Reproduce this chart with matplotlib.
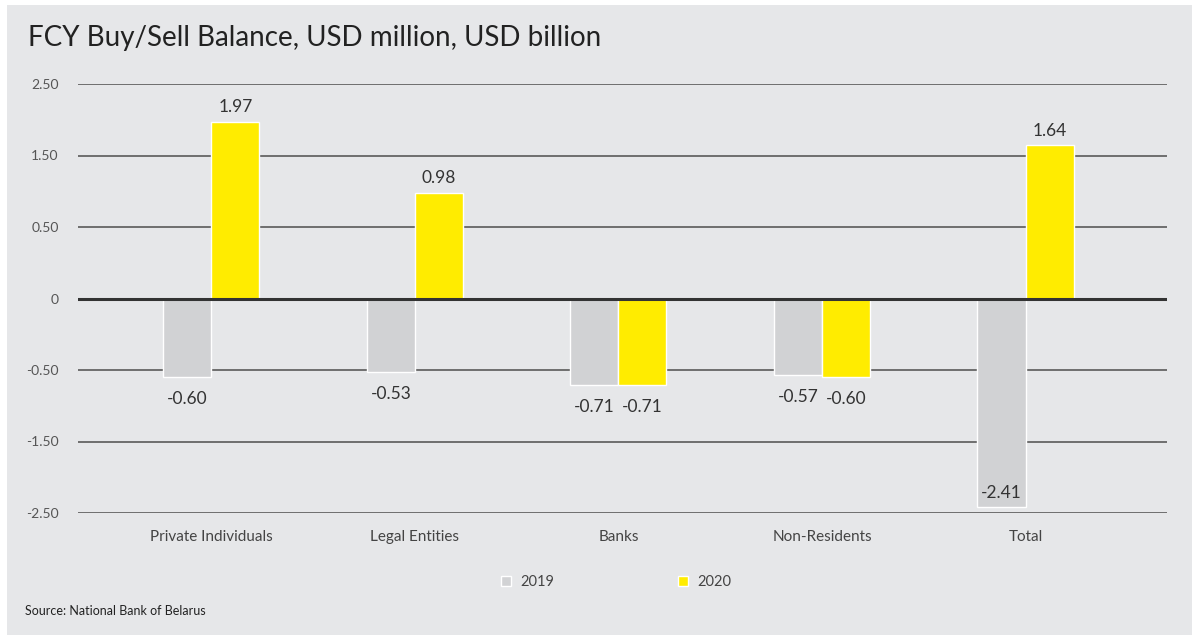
import numpy as np
import matplotlib
matplotlib.use("Agg")
import matplotlib.pyplot as plt
from matplotlib.patches import Rectangle

categories = ["Private Individuals", "Legal Entities", "Banks", "Non-Residents", "Total"]
vals_2019 = [-0.60, -0.53, -0.71, -0.57, -2.41]
vals_2020 = [1.97, 0.98, -0.71, -0.60, 1.64]
tick_vals = [-2.5, -1.5, -0.5, 0, 0.5, 1.5, 2.5]
tick_labels = ["-2.50", "-1.50", "-0.50", "0", "0.50", "1.50", "2.50"]

plt.rcParams["font.family"] = ["Lato", "DejaVu Sans"]

# the axis is stretched piecewise: every gridline gets the same spacing
grid_pos = np.arange(len(tick_vals)) - 3.0


def fwd(v):
    return np.interp(v, tick_vals, grid_pos)


def inv(u):
    return np.interp(u, grid_pos, tick_vals)


W, H = 1192, 635
fig = plt.figure(figsize=(W / 100, H / 100), dpi=100, facecolor="white")
fig.patches.append(Rectangle((7 / W, 0), 1, 1 - 5 / H, transform=fig.transFigure,
                             facecolor="#e6e7e9", edgecolor="none", zorder=0))

ax = fig.add_axes([78 / W, 1 - 513 / H, (1167 - 78) / W, (513 - 84) / H])
ax.set_zorder(2)
ax.set_facecolor("none")
ax.set_yscale("function", functions=(fwd, inv))
ax.set_ylim(-2.5, 2.5)

x = np.arange(len(categories))
bw = 0.236
c19, c20 = "#d1d2d4", "#ffec00"
b1 = ax.bar(x - bw / 2, vals_2019, bw, color=c19, edgecolor="white", lw=1, zorder=2, label="2019")
b2 = ax.bar(x + bw / 2, vals_2020, bw, color=c20, edgecolor="white", lw=1, zorder=2, label="2020")

ax.set_xlim(-0.655, len(categories) - 1 + 0.695)
ax.set_xticks(x)
ax.set_xticklabels(categories, fontsize=11, color="#444444")
ax.set_yticks(tick_vals)
ax.set_yticklabels(tick_labels, fontsize=10, color="#555555")
ax.tick_params(length=0)
ax.tick_params(axis="x", pad=12)
ax.tick_params(axis="y", pad=14)

ax.grid(axis="y", color="#5a5a5a", lw=1.2, zorder=1)
ax.axhline(0, color="#333333", lw=2.2, zorder=3)
for s in ax.spines.values():
    s.set_visible(False)

# value labels
for bars, vals in ((b1, vals_2019), (b2, vals_2020)):
    for rect, v in zip(bars, vals):
        cx = rect.get_x() + rect.get_width() / 2
        if v >= 0:
            ax.annotate(f"{v:.2f}", (cx, v), xytext=(0, 5), textcoords="offset points",
                        ha="center", va="bottom", fontsize=12.5, color="#333333")
        elif v < -2:
            ax.annotate(f"{v:.2f}", (cx, v), xytext=(0, 4), textcoords="offset points",
                        ha="center", va="bottom", fontsize=12.5, color="#333333")
        else:
            ax.annotate(f"{v:.2f}", (cx, v), xytext=(0, -10), textcoords="offset points",
                        ha="center", va="top", fontsize=12.5, color="#333333")

fig.text(28 / W, 1 - 38 / H, "FCY Buy/Sell Balance, USD million, USD billion",
         fontsize=20, color="#222222", va="center", ha="left")
fig.text(25 / W, 1 - 611 / H, "Source: National Bank of Belarus",
         fontsize=9, color="#222222", va="center", ha="left")

fig.legend(handles=[b1, b2], loc="center", bbox_to_anchor=(616 / W, 1 - 582 / H),
           ncol=2, frameon=False, fontsize=10.5, labelcolor="#444444",
           handlelength=0.7, handleheight=0.7, handletextpad=0.6, columnspacing=8.5)

fig.savefig("out.png", dpi=100, facecolor=fig.get_facecolor())
